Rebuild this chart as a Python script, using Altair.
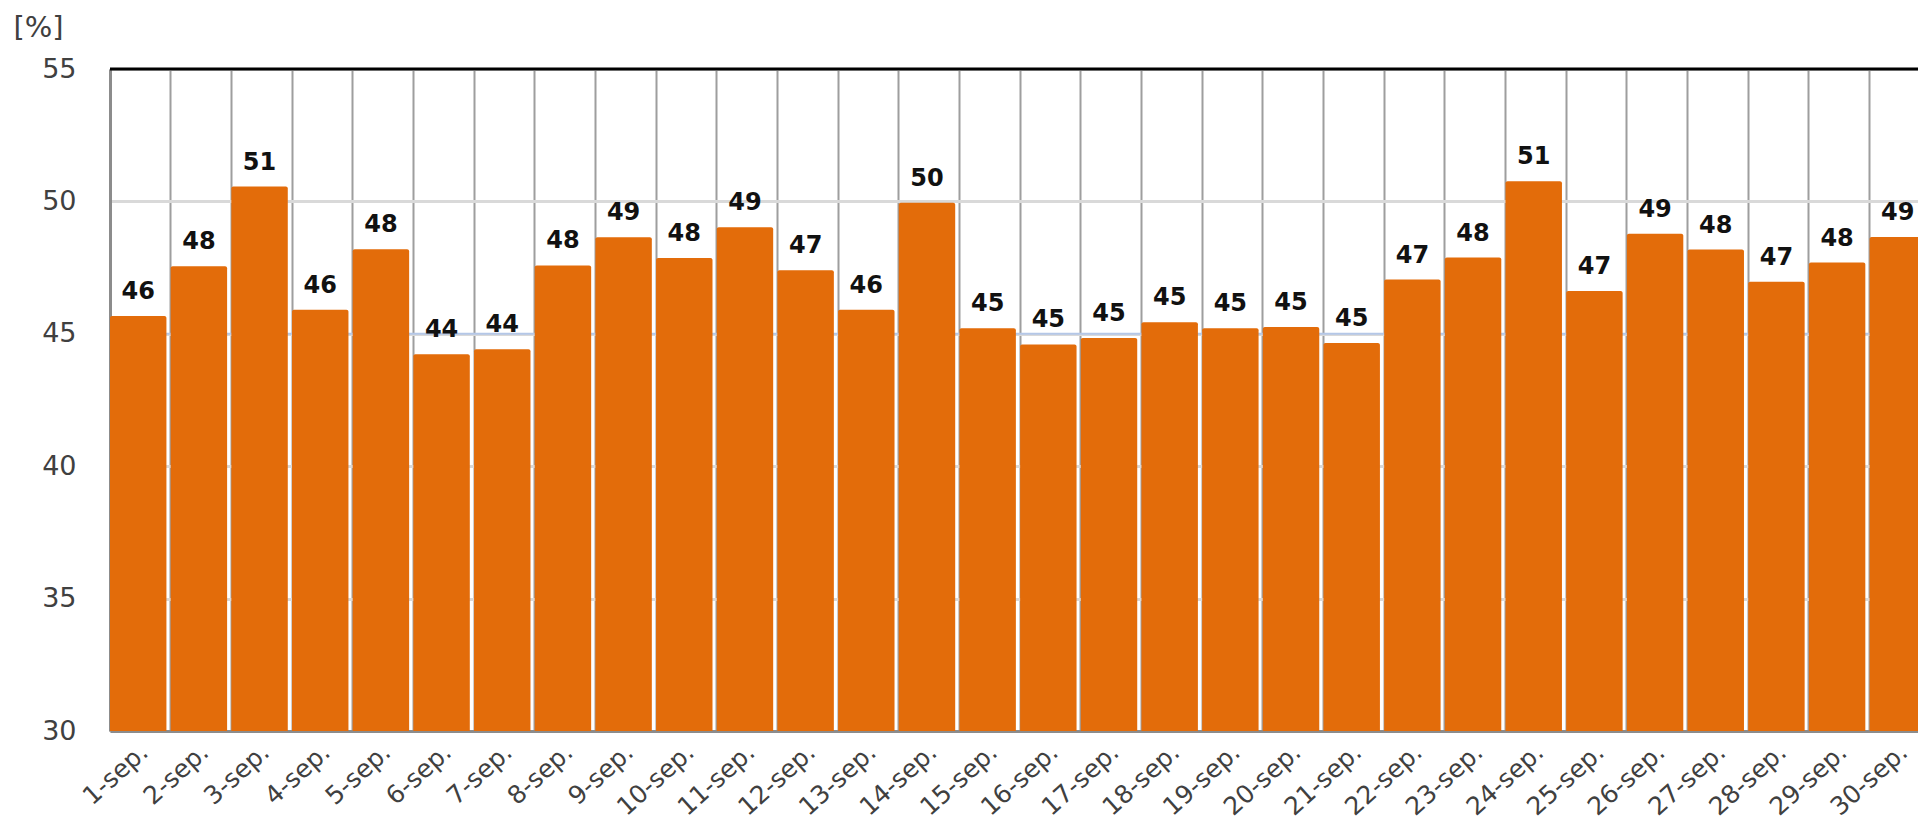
import altair as alt
import pandas as pd

days = [f"{i}-sep." for i in range(1, 31)]
values = [45.67, 47.55, 50.56, 45.91, 48.19, 44.23, 44.42, 47.58, 48.65, 47.86,
          49.02, 47.40, 45.91, 49.95, 45.21, 44.60, 44.84, 45.44, 45.21, 45.26,
          44.65, 47.05, 47.88, 50.76, 46.62, 48.78, 48.18, 46.97, 47.69, 48.66]
target = [45]
y_domain = [30, 55]
y_ticks = [30, 35, 40, 45, 50, 55]

df = pd.DataFrame({"day": days, "value": values})
tdf = pd.DataFrame({"t": target})

FONT = "DejaVu Sans"

x_enc = alt.X(
    "day:N", sort=days, title=None,
    scale=alt.Scale(paddingInner=0.07, paddingOuter=0, range=[0, 1816]),
    axis=alt.Axis(
        labelAngle=-42, labelAlign="right", labelBaseline="middle",
        labelPadding=17, labelOffset=6, labelFontSize=25, labelFont=FONT,
        labelColor="#404040", ticks=False, domainColor="#8c8c8c", domainWidth=3,
        grid=True, gridColor="#9e9e9e", gridWidth=2, bandPosition=0,
        labelOverlap=False,
    ),
)

y_scale = alt.Scale(domain=y_domain, nice=False, zero=False)

bars = alt.Chart(df).mark_bar(color="#E36C0A", cornerRadiusTopLeft=2,
                              cornerRadiusTopRight=2).encode(
    x=x_enc,
    y=alt.Y("value:Q", scale=y_scale, title="[%]",
            axis=alt.Axis(values=y_ticks, ticks=False, labelPadding=34,
                          labelFontSize=27, labelFont=FONT, labelColor="#404040",
                          domainColor="#8c8c8c", domainWidth=3,
                          gridColor="#d9d9d9", gridWidth=3,
                          titleAngle=0, titleAlign="left", titleBaseline="top",
                          titleX=-97, titleY=-56, titleFont=FONT, titleFontSize=29,
                          titleFontWeight="normal", titleColor="#404040")),
    y2=alt.datum(30),
)

labels = alt.Chart(df).mark_text(
    font=FONT, fontSize=24, fontWeight="bold", color="#111111",
    baseline="alphabetic", dy=-17,
).encode(
    x=alt.X("day:N", sort=days),
    y=alt.Y("value:Q", scale=y_scale),
    text=alt.Text("value:Q", format=".0f"),
)

target_rule = alt.Chart(tdf).mark_rule(color="#B4C7E7", strokeWidth=2).encode(
    y=alt.Y("t:Q", scale=y_scale)
)

top_rule = alt.Chart(tdf).mark_rule(color="#000000", strokeWidth=3).encode(
    y=alt.datum(55, scale=y_scale)
)

chart = alt.layer(target_rule, bars, labels, top_rule).properties(
    width=1808, height=662,
    autosize=alt.AutoSizeParams(type="none"),
    padding={"left": 102, "top": 61, "right": 0, "bottom": 91},
).configure_view(stroke=None).configure(background="white")

chart.save("out.html", embed_options={"renderer": "svg", "actions": False})
